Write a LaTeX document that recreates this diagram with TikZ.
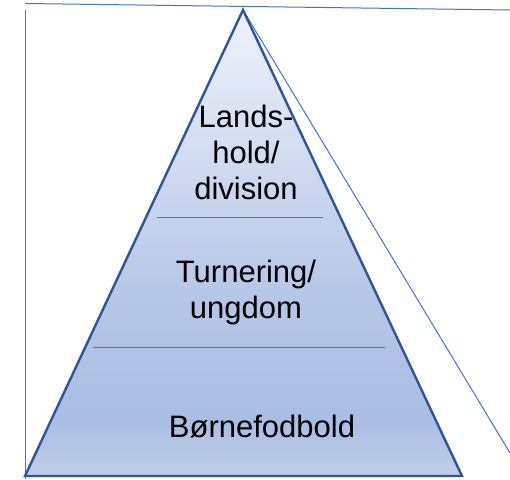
\documentclass[tikz,border=0pt]{standalone}
\usepackage{fontspec}
\setmainfont{Liberation Sans}
\definecolor{edge}{HTML}{2F5597}
\definecolor{thin}{HTML}{4472C4}
\definecolor{cA}{HTML}{C0CEE9}
\definecolor{cB}{HTML}{AABDE3}
\definecolor{cC}{HTML}{B6C6E7}
\definecolor{cD}{HTML}{C9D5EE}
\definecolor{cE}{HTML}{EEF2FA}
\pgfdeclareverticalshading{pyr}{100bp}{color(0bp)=(cA); color(25bp)=(cA); color(31bp)=(cB); color(44bp)=(cC); color(54.6bp)=(cD); color(75bp)=(cE); color(100bp)=(cE)}
\tikzset{
  thinline/.style={draw=thin, line width=1pt},
  edgeline/.style={draw=edge, line width=2.4pt, line join=miter},
  lbl/.style={font=\fontsize{31}{36}\selectfont, align=center, inner sep=0pt, text=black}
}
\begin{document}
\begin{tikzpicture}[x=1pt,y=-1pt]
\useasboundingbox (0,0) rectangle (510,479);
\coordinate (apex) at (243,10);
\coordinate (bl) at (25,476);
\coordinate (br) at (462,476);
\coordinate (tl) at (25,3.5);
\coordinate (tr) at (510,10);
\coordinate (lt) at (25,10);
\coordinate (lb) at (25,479);
\coordinate (rr) at (510,453);
\coordinate (d1l) at (157,217);
\coordinate (d1r) at (323,217);
\coordinate (d2l) at (93,347);
\coordinate (d2r) at (385,347);
% frame lines
\draw[thinline] (tl) -- (tr);
\draw[thinline] (lt) -- (lb);
\draw[thinline] (apex) -- (rr);
% pyramid
\shade[shading=pyr] (apex) -- (br) -- (bl) -- cycle;
\draw[thinline] (d1l) -- (d1r);
\draw[thinline] (d2l) -- (d2r);
\draw[edgeline] (apex) -- (br) -- (bl) -- cycle;
% labels
\node[lbl, anchor=base] (top) at (246,199) {Lands-\\hold/\\division};
\node[lbl, anchor=base] (mid) at (246,318) {Turnering/\\ungdom};
\node[lbl, anchor=base] (bot) at (262,437) {Børnefodbold};
\end{tikzpicture}
\end{document}
